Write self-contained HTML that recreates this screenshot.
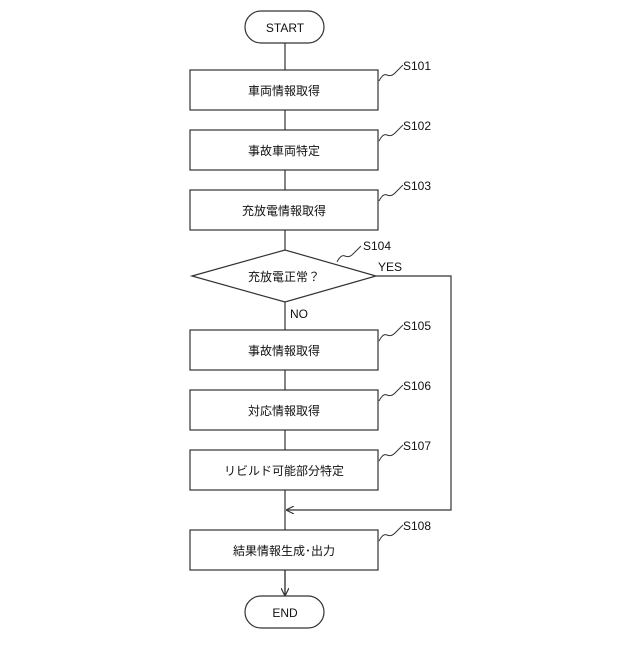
<!DOCTYPE html>
<html><head><meta charset="utf-8"><style>body{margin:0;background:#fff}</style></head><body>
<svg width="640" height="640" viewBox="0 0 640 640" xmlns="http://www.w3.org/2000/svg" font-family="'Liberation Sans','Noto Sans CJK JP',sans-serif" font-size="12" fill="none" stroke="#333" stroke-width="1.2">
<defs><marker id="a" markerWidth="8" markerHeight="8" refX="7" refY="4" orient="auto" markerUnits="userSpaceOnUse"><path d="M0,0 L8,4 L0,8" fill="none" stroke="#333"/></marker></defs>
<line x1="285" y1="43" x2="285" y2="596"/>
<line x1="285" y1="570" x2="285" y2="595" marker-end="url(#a)"/>
<polyline points="376,276 451,276 451,510 287,510" marker-end="url(#a)"/>
<rect x="245" y="11" width="79" height="32" rx="16" fill="#fff"/>
<rect x="245" y="596" width="79" height="32" rx="16" fill="#fff"/>
<g fill="#fff">
<rect x="190" y="70" width="188" height="40"/>
<rect x="190" y="130" width="188" height="40"/>
<rect x="190" y="190" width="188" height="40"/>
<polygon points="192,276 285,250 376,276 285,302"/>
<rect x="190" y="330" width="188" height="40"/>
<rect x="190" y="390" width="188" height="40"/>
<rect x="190" y="450" width="188" height="40"/>
<rect x="190" y="530" width="188" height="40"/>
</g>
<g stroke-width="1">
<path d="M379,81 q4,-8 8,-6 t8,-2 t8,-8"/>
<path d="M379,141 q4,-8 8,-6 t8,-2 t8,-8"/>
<path d="M379,201 q4,-8 8,-6 t8,-2 t8,-8"/>
<path d="M337,262 q4,-8 8,-6 t8,-2 t8,-8"/>
<path d="M379,341 q4,-8 8,-6 t8,-2 t8,-8"/>
<path d="M379,401 q4,-8 8,-6 t8,-2 t8,-8"/>
<path d="M379,461 q4,-8 8,-6 t8,-2 t8,-8"/>
<path d="M379,541 q4,-8 8,-6 t8,-2 t8,-8"/>
</g>
<g fill="#111" stroke="none" text-anchor="middle">
<text x="285" y="32">START</text>
<text x="285" y="617">END</text>
<text x="284" y="95">車両情報取得</text>
<text x="284" y="155">事故車両特定</text>
<text x="284" y="215">充放電情報取得</text>
<text x="284" y="281">充放電正常？</text>
<text x="284" y="355">事故情報取得</text>
<text x="284" y="415">対応情報取得</text>
<text x="284" y="475">リビルド可能部分特定</text>
<text x="284" y="555">結果情報生成･出力</text>
</g>
<g fill="#111" stroke="none">
<text x="403" y="70">S101</text>
<text x="403" y="130">S102</text>
<text x="403" y="190">S103</text>
<text x="363" y="250">S104</text>
<text x="378" y="271">YES</text>
<text x="290" y="318">NO</text>
<text x="403" y="330">S105</text>
<text x="403" y="390">S106</text>
<text x="403" y="450">S107</text>
<text x="403" y="530">S108</text>
</g>
</svg>
</body></html>
